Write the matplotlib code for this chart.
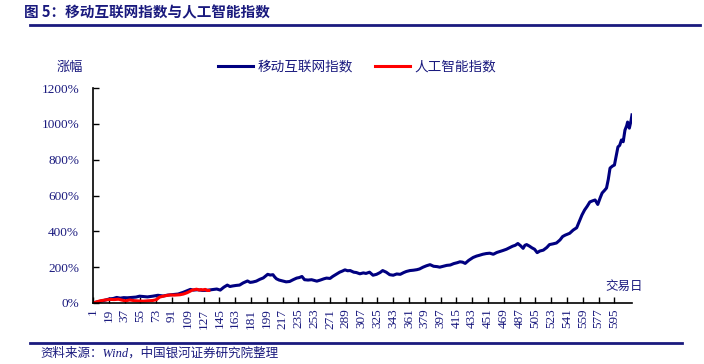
import matplotlib
matplotlib.use("Agg")
import matplotlib.pyplot as plt
from matplotlib.lines import Line2D

NAVY = "#1a1a7e"
BLUE = "#000080"
RED = "#ff0000"
CJK = ["Noto Sans CJK SC", "DejaVu Sans"]
SERIF = ["Liberation Serif", "Noto Sans CJK SC"]

# trading day index and cumulative gain (%)
mobile_days = [1, 5, 9, 14, 20, 24, 28, 32, 36, 40, 45, 50, 54, 58, 63, 69, 75, 81, 86, 92,
               98, 104, 109, 112, 115, 120, 126, 131, 136, 142, 146, 150, 154, 157, 160, 164,
               168, 172, 177, 180, 183, 187, 191, 195, 198, 200, 203, 206, 208, 210, 213, 217,
               221, 225, 229, 233, 236, 239, 242, 246, 250, 253, 256, 260, 264, 267, 271, 274,
               278, 282, 285, 288, 291, 294, 298, 301, 305, 309, 312, 316, 320, 324, 328, 331,
               335, 339, 343, 347, 351, 355, 358, 362, 366, 370, 373, 377, 381, 385, 389, 393,
               396, 400, 404, 408, 412, 416, 419, 422, 425, 429, 434, 438, 441, 445, 449, 453,
               457, 461, 465, 468, 472, 476, 479, 482, 485, 488, 491, 493, 495, 498, 501, 504,
               507, 510, 514, 518, 521, 525, 529, 533, 536, 539, 544, 548, 552, 555, 558, 561,
               564, 567, 570, 573, 576, 579, 581, 584, 586, 588, 590, 593, 595, 597, 599, 601,
               603, 605, 607, 609, 610, 612, 614, 615]
mobile_pct = [0, 5, 9, 15, 23, 25, 31, 27, 30, 29, 31, 33, 38, 36, 34, 38, 43, 39, 44, 47,
              50, 60, 70, 76, 72, 74, 70, 71, 74, 78, 72, 88, 100, 92, 95, 98,
              100, 112, 123, 115, 117, 122, 132, 140, 152, 160, 156, 158, 145, 135, 128, 123,
              118, 120, 130, 139, 142, 148, 130, 128, 130, 126, 122, 128, 135, 139, 137, 148,
              160, 172, 178, 185, 180, 181, 172, 170, 163, 168, 165, 172, 155, 160, 170, 181,
              172, 158, 155, 162, 160, 170, 176, 181, 183, 186, 190, 200, 208, 214, 205, 203,
              200, 205, 210, 212, 220, 225, 230, 228, 221, 238, 254, 262, 266, 272, 276, 278,
              272, 282, 288, 293, 300, 310, 317, 322, 332, 320, 305, 322, 326, 318, 308, 300,
              281, 290, 295, 310, 326, 330, 335, 352, 371, 379, 389, 407, 420, 455, 491, 519,
              540, 564, 570, 575, 550, 590, 614, 630, 642, 690, 753, 765, 770, 820, 871, 880,
              910, 900, 965, 990, 1010, 976, 1020, 1050]

ai_days = [1, 5, 9, 14, 20, 25, 30, 34, 38, 43, 48, 54, 58, 63, 69, 73, 77, 81, 85, 89,
           94, 100, 104, 108, 111, 114, 117, 119, 122, 124, 126, 129, 131, 133]
ai_pct = [0, 6, 12, 16, 20, 19, 21, 16, 12, 17, 13, 11, 10, 12, 14, 18, 33, 38, 42, 45,
          44, 46, 50, 57, 64, 72, 75, 77, 72, 75, 73, 76, 70, 70]

y_ticks = [0, 200, 400, 600, 800, 1000, 1200]
x_ticks = list(range(1, 596, 18))

fig = plt.figure(figsize=(7.04, 3.64), dpi=100)
ax = fig.add_axes([0.1321, 0.1676, 0.7656, 0.5906])

ax.plot(mobile_days, mobile_pct, color=BLUE, lw=2.2, solid_joinstyle="round")
ax.plot(ai_days, ai_pct, color=RED, lw=2.2, solid_joinstyle="round")

ax.set_xlim(1, 615)
ax.set_ylim(0, 1200)
ax.set_yticks(y_ticks)
ax.set_yticklabels([f"{v}%" for v in y_ticks], family=SERIF, fontsize=9.5, color=NAVY)
ax.set_xticks(x_ticks)
ax.set_xticklabels([str(v) for v in x_ticks], family=SERIF, fontsize=9.5,
                   color=NAVY, rotation=90)
ax.tick_params(axis="both", direction="in", length=4, width=1, color="black")
ax.tick_params(axis="y", pad=10)
ax.tick_params(axis="x", pad=4)
for s in ["top", "right"]:
    ax.spines[s].set_visible(False)
for s in ["left", "bottom"]:
    ax.spines[s].set_linewidth(1.2)

# legend
handles = [Line2D([], [], color=BLUE, lw=2.2), Line2D([], [], color=RED, lw=2.2)]
fig.legend(handles, ["移动互联网指数", "人工智能指数"], loc="center",
           bbox_to_anchor=(0.507, 0.816), ncol=2, frameon=False, handlelength=2.6,
           handletextpad=0.3, columnspacing=1.6,
           prop={"family": CJK, "size": 9.8}, labelcolor=NAVY)

fig.text(0.099, 0.816, "涨幅", family=CJK, fontsize=9.5, color=NAVY,
         ha="center", va="center")
fig.text(0.886, 0.212, "交易日", family=CJK, fontsize=9, color=NAVY,
         ha="center", va="center")

# title, rules and source
fig.text(0.034, 0.967, "图 5：移动互联网指数与人工智能指数", family=CJK, fontsize=10.5,
         fontweight="bold", color=NAVY, ha="left", va="center")
fig.add_artist(Line2D([0.043, 0.995], [0.931, 0.931], color=NAVY, lw=2.0))
fig.add_artist(Line2D([0.043, 0.969], [0.058, 0.058], color=NAVY, lw=2.0))
fig.text(0.057, 0.030, "资料来源：Wind，中国银河证券研究院整理", family=SERIF,
         fontsize=9, style="italic", color=NAVY, ha="left", va="center")

fig.savefig("out.png", dpi=100)
